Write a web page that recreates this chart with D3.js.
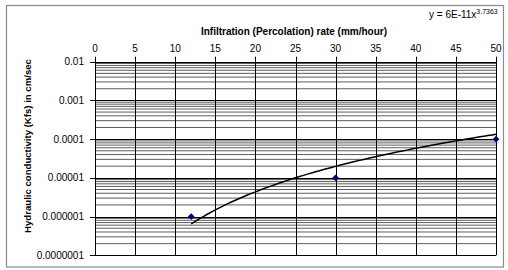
<!DOCTYPE html>
<html><head><meta charset="utf-8">
<script src="https://cdn.jsdelivr.net/npm/d3@7"></script>
<style>html,body{margin:0;padding:0;background:#fff}svg{display:block;font-family:"Liberation Sans",Arial,sans-serif}</style>
</head><body>
<script>
// Data
const rates = [12, 30, 50];                 // infiltration rate (mm/hour)
const conductivity = [1e-6, 1e-5, 1e-4];    // Kfs (cm/sec)
const xTicks = [0, 5, 10, 15, 20, 25, 30, 35, 40, 45, 50];
const yTicks = [0.01, 0.001, 0.0001, 0.00001, 0.000001, 0.0000001];
const yTickLabels = ["0.01", "0.001", "0.0001", "0.00001", "0.000001", "0.0000001"];
const trendCoef = [6e-11, 3.7363];          // y = a * x^b (from chart label)
const trendRange = [12, 50];

const W = 508, H = 270;
const svg = d3.select("body").append("svg").attr("width", W).attr("height", H);

// chart border
svg.append("rect").attr("x", 6.5).attr("y", 5.5).attr("width", 497).attr("height", 261.5)
  .attr("fill", "#fff").attr("stroke", "#8a8a8a").attr("stroke-width", 1.2);

const x = d3.scaleLinear().domain([0, 50]).range([95, 496]);
const y = d3.scaleLog().domain([1e-7, 1e-2]).range([255.3, 61.7]);

const g = svg.append("g");

// minor horizontal gridlines
const minor = [];
for (let e = -7; e < -2; e++) for (let k = 2; k <= 9; k++) minor.push(k * Math.pow(10, e));
g.selectAll("line.minor").data(minor).enter().append("line")
  .attr("x1", x(0)).attr("x2", x(50))
  .attr("y1", d => y(d)).attr("y2", d => y(d))
  .attr("stroke", "#333").attr("stroke-width", 0.8);

// major horizontal
g.selectAll("line.major").data(yTicks).enter().append("line")
  .attr("x1", x(0) - 5).attr("x2", x(50))
  .attr("y1", d => Math.round(y(d)) + 0.5).attr("y2", d => Math.round(y(d)) + 0.5)
  .attr("stroke", "#000").attr("stroke-width", 1);

// vertical gridlines + ticks above
g.selectAll("line.v").data(xTicks).enter().append("line")
  .attr("x1", d => Math.round(x(d)) + 0.5).attr("x2", d => Math.round(x(d)) + 0.5)
  .attr("y1", y(1e-2) - 5).attr("y2", y(1e-7))
  .attr("stroke", "#000").attr("stroke-width", 1);

// x tick labels (top)
g.selectAll("text.xt").data(xTicks).enter().append("text")
  .attr("x", d => x(d)).attr("y", 51.5).attr("text-anchor", "middle")
  .attr("font-size", 10).attr("fill", "#000").text(d => d);

// y tick labels
g.selectAll("text.yt").data(yTicks).enter().append("text")
  .attr("x", 84).attr("y", d => y(d) + 3.5).attr("text-anchor", "end")
  .attr("font-size", 10).attr("fill", "#000").text((d, i) => yTickLabels[i]);

// axis titles
svg.append("text").attr("x", 294).attr("y", 35).attr("text-anchor", "middle")
  .attr("font-size", 10).attr("font-weight", "bold").text("Infiltration (Percolation) rate (mm/hour)");
svg.append("text").attr("transform", "translate(31,146) rotate(-90)").attr("text-anchor", "middle")
  .attr("font-size", 9.6).attr("font-weight", "bold").text("Hydraulic conductivity (Kfs) in cm/sec");

// trendline
const tx = d3.range(trendRange[0], trendRange[1] + 0.001, 0.5);
const line = d3.line().x(d => x(d)).y(d => y(trendCoef[0] * Math.pow(d, trendCoef[1]))).curve(d3.curveLinear);
svg.append("path").datum(tx).attr("d", line).attr("fill", "none").attr("stroke", "#000").attr("stroke-width", 1.5);

// data points
svg.selectAll("path.pt").data(rates).enter().append("path")
  .attr("d", d3.symbol().type(d3.symbolDiamond2).size(28))
  .attr("transform", (d, i) => `translate(${x(d)},${y(conductivity[i])})`)
  .attr("fill", "#000080");

// equation
const eq = svg.append("text").attr("x", 429).attr("y", 18).attr("font-size", 10).attr("fill", "#000");
eq.append("tspan").text("y = 6E-11x");
eq.append("tspan").attr("font-size", 7).attr("dy", -4).text(trendCoef[1]);
</script>
</body></html>
